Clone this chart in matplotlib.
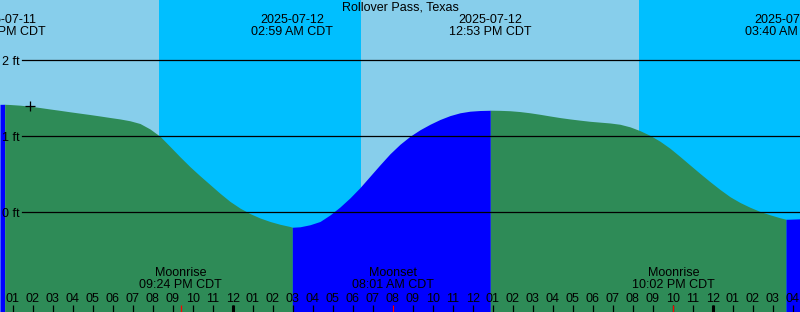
import matplotlib
matplotlib.use('Agg')
import matplotlib.pyplot as plt
import matplotlib.dates as mdates
import numpy as np
import pandas as pd

plt.rcParams['font.family'] = ['Liberation Sans', 'DejaVu Sans']

STATION = 'Rollover Pass, Texas'

# tide height (ft) every 30 min, 2025-07-11 12:22 .. 2025-07-13 04:22 CDT
GRID_START = '2025-07-11 12:22'
GRID_END = '2025-07-13 04:22'
HEIGHTS = [
    1.420, 1.418, 1.409, 1.396, 1.378, 1.359, 1.341, 1.322, 1.304, 1.286,
    1.267, 1.247, 1.228, 1.204, 1.168, 1.096, 1.000, 0.866, 0.730, 0.600,
    0.480, 0.365, 0.250, 0.143, 0.055, -0.017, -0.075, -0.121, -0.158, -0.187,
    -0.191, -0.164, -0.121, -0.035, 0.070, 0.190, 0.325, 0.475, 0.625, 0.770,
    0.895, 1.000, 1.086, 1.158, 1.221, 1.272, 1.309, 1.330, 1.339, 1.342,
    1.341, 1.336, 1.325, 1.309, 1.289, 1.267, 1.246, 1.228, 1.212, 1.197,
    1.186, 1.175, 1.158, 1.124, 1.074, 1.012, 0.935, 0.842, 0.734, 0.622,
    0.511, 0.403, 0.300, 0.205, 0.129, 0.066, 0.011, -0.033, -0.072, -0.091,
    -0.086,
]

# high / low tide events
EVENT_TIMES = ['2025-07-11 12:36', '2025-07-12 02:59', '2025-07-12 12:53', '2025-07-13 03:40']
EVENT_HEIGHTS = [1.421, -0.197, 1.343, -0.092]

# sunset / sunrise
SUN_TIMES = ['2025-07-11 20:19', '2025-07-12 06:25', '2025-07-12 20:19']

# moon events
MOON_TIMES = ['2025-07-11 21:24', '2025-07-12 08:01', '2025-07-12 22:02']
MOON_NAMES = ['Moonrise', 'Moonset', 'Moonrise']

NOW_TIME = '2025-07-11 13:52'
NOW_HEIGHT = 1.40

Y_RANGE = (-1.312, 2.793)
FT_LINES = [0, 1, 2]

DAY = '#87CEEB'
NIGHT = '#00BFFF'
RISING = '#0000FF'
FALLING = '#2E8B57'

grid = pd.date_range(GRID_START, GRID_END, freq='30min')
tide = pd.Series(HEIGHTS, index=grid)
tide = pd.concat([tide, pd.Series(EVENT_HEIGHTS, index=pd.to_datetime(EVENT_TIMES))]).sort_index()
t = mdates.date2num(tide.index)
h = tide.values

ev = mdates.date2num(pd.to_datetime(EVENT_TIMES))
sun = mdates.date2num(pd.to_datetime(SUN_TIMES))
x0 = mdates.date2num(pd.Timestamp(GRID_START))
x1 = mdates.date2num(pd.Timestamp(GRID_END))

fig = plt.figure(figsize=(8, 3.12), dpi=100)
ax = fig.add_axes([0, 0, 1, 1])
ax.set_xlim(x0, x1)
ax.set_ylim(*Y_RANGE)
for s in ax.spines.values():
    s.set_visible(False)

# day / night background
edges = [x0] + list(sun) + [x1]
for i in range(len(edges) - 1):
    # starts in the afternoon, so day first
    ax.axvspan(edges[i], edges[i + 1], color=DAY if i % 2 == 0 else NIGHT, lw=0, zorder=0)

# tide fill, rising blue / falling green
bounds = [x0] + list(ev) + [x1]
for i in range(len(bounds) - 1):
    m = (t >= bounds[i]) & (t <= bounds[i + 1])
    if m.sum() < 2:
        continue
    seg_t, seg_h = t[m], h[m]
    rising = seg_h[-1] > seg_h[0]
    ax.fill_between(seg_t, seg_h, Y_RANGE[0], color=RISING if rising else FALLING,
                    lw=0, zorder=1)

# foot lines
for ft in FT_LINES:
    ax.axhline(ft, xmin=22 / 800, xmax=1, color='black', lw=0.9, zorder=3)
    ax.text(20 / 800, ft, f'{ft} ft', transform=ax.get_yaxis_transform(),
            ha='right', va='center_baseline', fontsize=9, zorder=4)

ax.plot(mdates.date2num(pd.Timestamp(NOW_TIME)), NOW_HEIGHT, marker='+',
        color='black', ms=7, mew=0.9, zorder=5)

tr = ax.get_xaxis_transform()

# high/low labels on top
for et in EVENT_TIMES:
    ts = pd.Timestamp(et)
    xe = mdates.date2num(ts)
    ax.text(xe, 1 - 20 / 312, ts.strftime('%Y-%m-%d'), transform=tr,
            ha='center', va='center', fontsize=9, zorder=6)
    ax.text(xe, 1 - 31.7 / 312, ts.strftime('%I:%M %p CDT'), transform=tr,
            ha='center', va='center', fontsize=9, zorder=6)

fig.text(0.5, 1 - 7 / 312, STATION, ha='center', va='center', fontsize=9)

# moon labels
for mt, name in zip(MOON_TIMES, MOON_NAMES):
    ts = pd.Timestamp(mt)
    xm = mdates.date2num(ts)
    ax.text(xm, 1 - 273.3 / 312, name, transform=tr, ha='center', va='center',
            fontsize=9, zorder=6)
    ax.text(xm, 1 - 285 / 312, ts.strftime('%I:%M %p CDT'), transform=tr,
            ha='center', va='center', fontsize=9, zorder=6)
    ax.vlines(xm, 0, 7 / 312, transform=tr, color='red', lw=0.9, zorder=6)

# hourly ticks inside the plot
ax.xaxis.set_major_locator(mdates.HourLocator())
ax.xaxis.set_major_formatter(mdates.DateFormatter('%I'))
ax.tick_params(axis='x', direction='in', length=5, width=0.9, pad=-14,
               labelsize=9, colors='black')
ax.set_yticks([])
for tick in ax.xaxis.get_major_ticks():
    tick.set_zorder(6)

# midnight ticks drawn heavier
days = pd.date_range('2025-07-12', '2025-07-13', freq='D')
ax.vlines(mdates.date2num(days), 0, 7 / 312, transform=tr, color='black', lw=2.2, zorder=6)

fig.savefig('out.png', dpi=100)
